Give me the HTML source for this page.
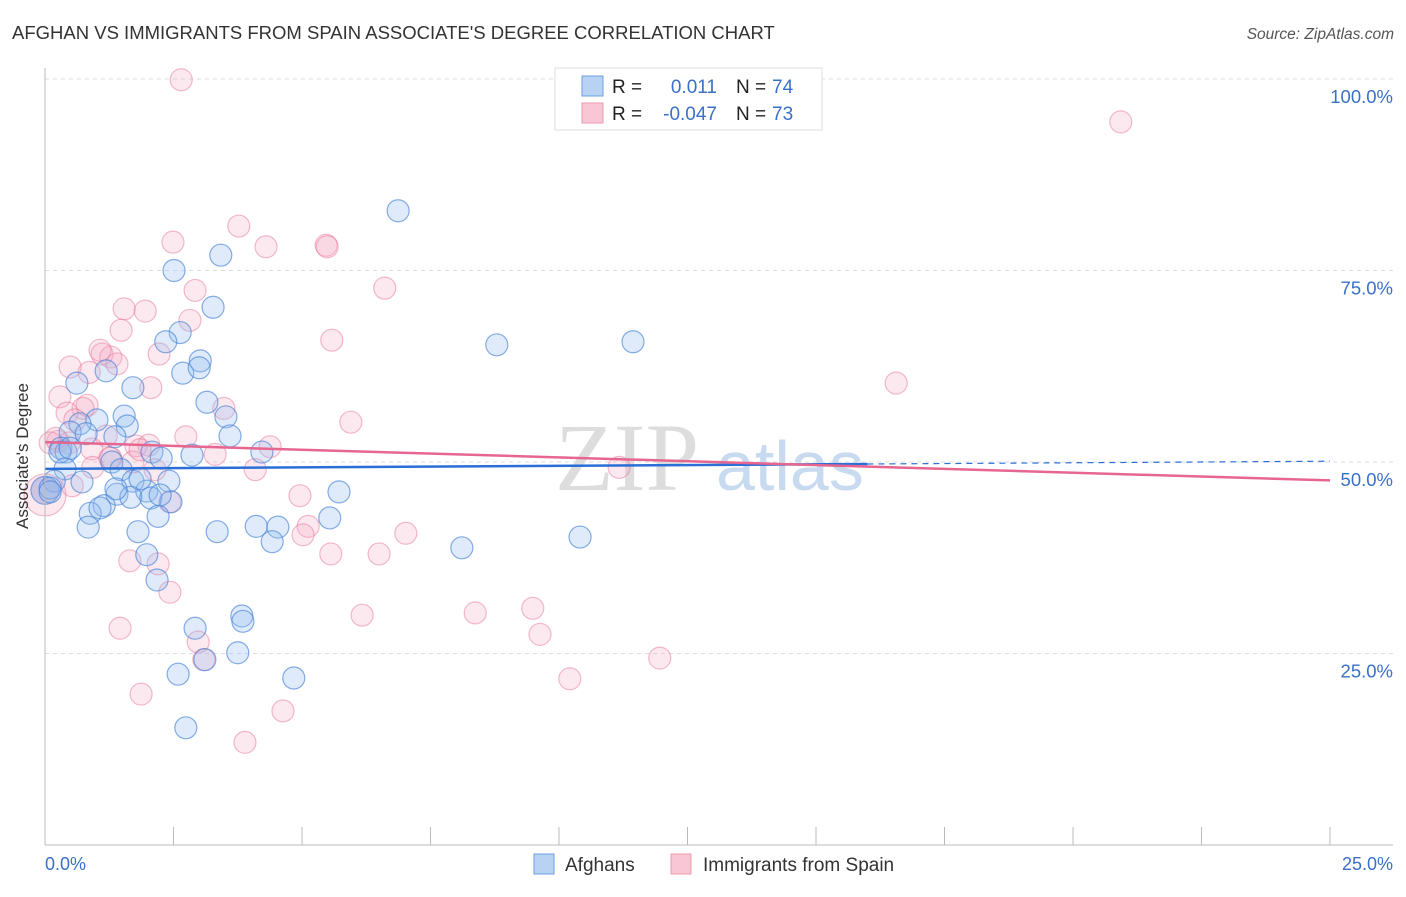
<!DOCTYPE html>
<html><head><meta charset="utf-8"><style>
body{margin:0;background:#fff;font-family:"Liberation Sans",sans-serif;}
</style></head><body>
<svg width="1406" height="892" xmlns="http://www.w3.org/2000/svg" id="chart" font-family="Liberation Sans, sans-serif">
<text x="12" y="39" font-size="18.5" fill="#333">AFGHAN VS IMMIGRANTS FROM SPAIN ASSOCIATE'S DEGREE CORRELATION CHART</text>
<text x="1394" y="39" font-size="15.5" fill="#555" font-style="italic" text-anchor="end">Source: ZipAtlas.com</text>
<g id="grid"></g>
<text x="555" y="490" font-size="96" fill="#ddd" font-family="Liberation Serif, serif">ZIP</text>
<text x="716" y="490" font-size="70" fill="#c8daf0">atlas</text>
<g id="pts"></g>
<g id="trends"></g>
<line x1="45" y1="68" x2="45" y2="845" stroke="#bbb"/>
<line x1="45" y1="845" x2="1393" y2="845" stroke="#bbb"/>
<g id="ticks"></g>
<text x="28" y="456" font-size="17" fill="#333" text-anchor="middle" transform="rotate(-90 28 456)">Associate's Degree</text>
<text x="45" y="870" font-size="18" fill="#3a70c8">0.0%</text>
<text x="1393" y="870" font-size="18" fill="#3a70c8" text-anchor="end">25.0%</text>
<g>
<rect x="555" y="68" width="267" height="62" fill="#fff" stroke="#ddd"/>
<rect x="582" y="76" width="21" height="20" fill="#b8d2f4" stroke="#6f9de0"/>
<rect x="582" y="103" width="21" height="20" fill="#f8c6d4" stroke="#ec9ab2"/>
<text x="612" y="93" font-size="19" fill="#222">R =</text>
<text x="717" y="93" font-size="19" fill="#3a70c8" text-anchor="end">0.011</text>
<text x="736" y="93" font-size="19" fill="#222">N =</text>
<text x="772" y="93" font-size="19" fill="#3a70c8">74</text>
<text x="612" y="120" font-size="19" fill="#222">R =</text>
<text x="717" y="120" font-size="19" fill="#3a70c8" text-anchor="end">-0.047</text>
<text x="736" y="120" font-size="19" fill="#222">N =</text>
<text x="772" y="120" font-size="19" fill="#3a70c8">73</text>
</g>
<g>
<rect x="534" y="854" width="20" height="20" fill="#b8d2f4" stroke="#6f9de0"/>
<text x="565" y="871" font-size="19" fill="#333">Afghans</text>
<rect x="671" y="854" width="20" height="20" fill="#f8c6d4" stroke="#ec9ab2"/>
<text x="703" y="871" font-size="19" fill="#333">Immigrants from Spain</text>
</g>
</svg>
<script>
const blueX=[6.87,3.42,2.51,3.27,2.63,2.35,8.79,11.44,3.02,2.68,3.00,1.19,0.62,1.71,3.15,1.54,3.52,1.01,1.60,0.68,1.36,3.60,0.49,0.80,0.31,0.41,2.08,2.26,2.86,4.22,1.30,1.48,0.39,0.18,1.71,0.72,2.41,0,0.10,1.98,1.40,1.67,2.06,2.45,5.72,1.15,0.88,2.20,5.54,0.84,1.81,3.35,4.11,4.53,4.42,8.11,10.41,1.98,2.18,3.83,3.85,2.92,3.75,2.59,3.11,4.84,2.74,0.29,0.49,1.85,2.24,1.38,0.10,1.07];
const blueY=[82.8,77.0,75.0,70.2,66.9,65.7,65.3,65.7,63.2,61.6,62.3,61.9,60.3,59.7,57.8,56.0,55.9,55.5,54.7,55.0,53.3,53.4,53.9,53.7,51.8,51.3,51.3,50.5,50.9,51.3,50.0,49.0,49.1,47.5,47.5,47.4,47.5,46.3,46.6,46.2,45.8,45.4,45.3,44.8,46.1,44.3,43.3,42.9,42.7,41.5,40.9,40.9,41.6,41.5,39.6,38.8,40.2,37.9,34.6,29.9,29.2,28.3,25.1,22.3,24.2,21.8,15.3,51.3,51.8,47.8,45.7,46.5,46.1,44.0];
const pinkX=[2.65,20.93,3.77,2.49,4.30,5.47,5.49,2.92,6.61,1.54,1.95,1.48,2.82,5.58,1.11,2.22,1.28,1.40,0.49,0.86,2.06,16.56,0.29,0.82,0.74,3.48,0.43,5.95,0.58,1.19,2.74,1.77,2.02,0.25,0.47,0.91,4.38,0.21,3.31,1.28,1.71,0.93,2.14,4.09,11.17,0,0.53,2.43,4.96,5.12,5.02,7.02,5.56,6.50,1.65,2.20,2.43,9.49,8.37,6.17,1.46,9.63,2.98,3.09,11.96,10.21,1.87,4.63,3.89,0.10,1.26,1.85,1.07];
const pinkY=[99.9,94.4,80.8,78.7,78.1,78.3,78.1,72.4,72.7,70.0,69.7,67.2,68.5,65.9,64.1,64.1,63.7,62.8,62.4,61.7,59.7,60.3,58.5,57.4,57.0,57.0,56.4,55.2,55.5,53.4,53.3,52.1,52.2,52.7,52.5,51.7,52.0,53.1,51.0,50.5,50.0,49.3,49.0,49.0,49.3,45.7,46.9,44.8,45.6,41.6,40.5,40.7,38.0,38.0,37.1,36.7,33.0,30.9,30.3,30.0,28.3,27.5,26.5,24.2,24.4,21.7,19.7,17.5,13.4,52.5,50.5,51.6,64.6];
const blueTrend=[49.1,50.1];
const pinkTrend=[52.6,47.6];
const yTicks=[25,50,75,100];
const yTickLabels=["25.0%","50.0%","75.0%","100.0%"];
const xTicks=[0,2.5,5,7.5,10,12.5,15,17.5,20,22.5,25];

const NS="http://www.w3.org/2000/svg";
const sx=v=>45+v*1285/25;
const sy=v=>845-v*7.66;
function mk(tag,attrs,parent){const e=document.createElementNS(NS,tag);for(const k in attrs)e.setAttribute(k,attrs[k]);document.getElementById(parent).appendChild(e);return e;}
yTicks.forEach((t,i)=>{
  const l=mk('line',{x1:45,x2:1393,y1:sy(t),y2:sy(t),stroke:'#ddd','stroke-dasharray':'4,4'},'grid');
  
  
  const tx=mk('text',{x:1393,y:sy(t)+24,'font-size':18.5,fill:'#3a70c8','text-anchor':'end'},'grid');
  tx.textContent=yTickLabels[i];
  
  
});
xTicks.forEach(t=>{
  const l=mk('line',{x1:sx(t),x2:sx(t),y1:827,y2:845,stroke:'#bbb'},'ticks');
  
  
});
pinkX.forEach((x,i)=>{
  const r=(x===0)?21:11;
  const c=mk('circle',{cx:sx(x),cy:sy(pinkY[i]),r:r,fill:'rgba(244,168,190,0.25)',stroke:'rgba(232,120,155,0.5)','stroke-width':1.2},'pts');
  
  
});
blueX.forEach((x,i)=>{
  const r=(x===0)?14:11;
  const c=mk('circle',{cx:sx(x),cy:sy(blueY[i]),r:r,fill:(x===0)?'rgba(130,140,210,0.4)':'rgba(150,190,240,0.3)',stroke:'rgba(70,130,215,0.65)','stroke-width':1.2},'pts');
  
  
});
const bAt=x=>blueTrend[0]+(blueTrend[1]-blueTrend[0])*x/25;
let l=mk('line',{x1:sx(0),y1:sy(bAt(0)),x2:sx(16),y2:sy(bAt(16)),stroke:'#2a6fd6','stroke-width':2.5},'trends');


l=mk('line',{x1:sx(16),y1:sy(bAt(16)),x2:sx(25),y2:sy(bAt(25)),stroke:'#2a6fd6','stroke-width':1.2,'stroke-dasharray':'6,5'},'trends');


l=mk('line',{x1:sx(0),y1:sy(pinkTrend[0]),x2:sx(25),y2:sy(pinkTrend[1]),stroke:'#e6668f','stroke-width':2.5},'trends');


</script>
</body></html>
